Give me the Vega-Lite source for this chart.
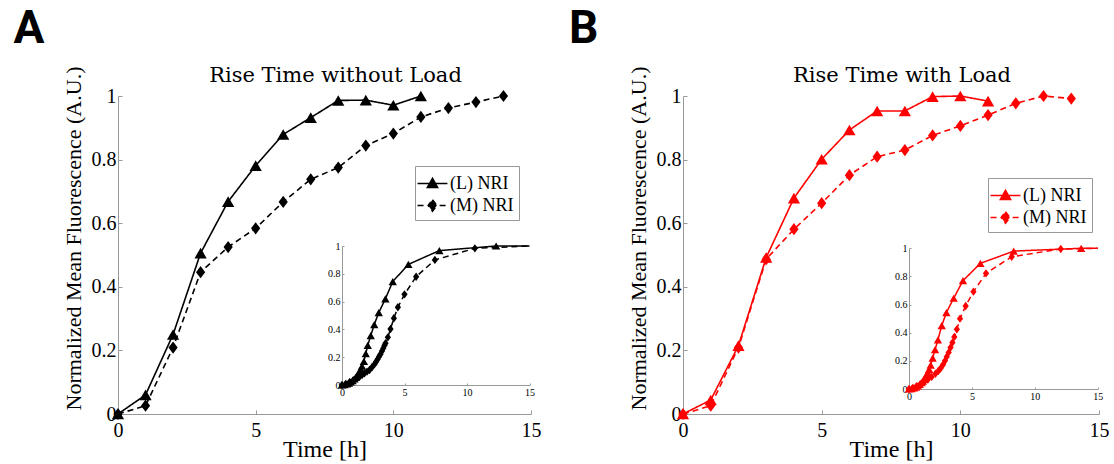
{
  "$schema": "https://vega.github.io/schema/vega-lite/v6.json",
  "padding": {"left": 13, "top": 6, "right": 0, "bottom": 0},
  "background": "white",
  "spacing": 27,
  "resolve": {"scale": {"strokeDash": "independent"}, "legend": {"strokeDash": "independent"}},
  "config": {
    "view": {"stroke": null},
    "axis": {"grid": false, "labelOverlap": false, "labelFlush": false, "labelBound": false, "domainColor": "#999", "tickColor": "#999", "labelColor": "black", "titleColor": "black", "labelFont": "Liberation Serif", "titleFont": "Liberation Serif", "titleFontWeight": "normal"},
    "title": {"color": "black"}
  },
  "datasets": {
    "mainA": [
      {"t": 0, "v": 0, "series": "(L) NRI"}, {"t": 1, "v": 0.06, "series": "(L) NRI"}, {"t": 2, "v": 0.25, "series": "(L) NRI"}, {"t": 3, "v": 0.506, "series": "(L) NRI"}, {"t": 4, "v": 0.668, "series": "(L) NRI"}, {"t": 5, "v": 0.781, "series": "(L) NRI"}, {"t": 6, "v": 0.879, "series": "(L) NRI"}, {"t": 7, "v": 0.932, "series": "(L) NRI"}, {"t": 8, "v": 0.986, "series": "(L) NRI"}, {"t": 9, "v": 0.987, "series": "(L) NRI"}, {"t": 10, "v": 0.971, "series": "(L) NRI"}, {"t": 11, "v": 1.0, "series": "(L) NRI"},
      {"t": 0, "v": 0, "series": "(M) NRI"}, {"t": 1, "v": 0.026, "series": "(M) NRI"}, {"t": 2, "v": 0.209, "series": "(M) NRI"}, {"t": 3, "v": 0.446, "series": "(M) NRI"}, {"t": 4, "v": 0.525, "series": "(M) NRI"}, {"t": 5, "v": 0.584, "series": "(M) NRI"}, {"t": 6, "v": 0.667, "series": "(M) NRI"}, {"t": 7, "v": 0.738, "series": "(M) NRI"}, {"t": 8, "v": 0.775, "series": "(M) NRI"}, {"t": 9, "v": 0.844, "series": "(M) NRI"}, {"t": 10, "v": 0.882, "series": "(M) NRI"}, {"t": 11, "v": 0.934, "series": "(M) NRI"}, {"t": 12, "v": 0.962, "series": "(M) NRI"}, {"t": 13, "v": 0.981, "series": "(M) NRI"}, {"t": 14, "v": 1.0, "series": "(M) NRI"}
    ],
    "insetA": [
      {"t": 0, "v": 0, "series": "(L) NRI"}, {"t": 0.2, "v": 0.003, "series": "(L) NRI"}, {"t": 0.4, "v": 0.008, "series": "(L) NRI"}, {"t": 0.55, "v": 0.014, "series": "(L) NRI"}, {"t": 0.7, "v": 0.022, "series": "(L) NRI"}, {"t": 0.85, "v": 0.032, "series": "(L) NRI"}, {"t": 1.0, "v": 0.044, "series": "(L) NRI"}, {"t": 1.1, "v": 0.054, "series": "(L) NRI"}, {"t": 1.2, "v": 0.066, "series": "(L) NRI"}, {"t": 1.3, "v": 0.08, "series": "(L) NRI"}, {"t": 1.4, "v": 0.097, "series": "(L) NRI"}, {"t": 1.5, "v": 0.115, "series": "(L) NRI"}, {"t": 1.6, "v": 0.135, "series": "(L) NRI"}, {"t": 1.75, "v": 0.17, "series": "(L) NRI"}, {"t": 1.9, "v": 0.225, "series": "(L) NRI"}, {"t": 2.06, "v": 0.285, "series": "(L) NRI"}, {"t": 2.3, "v": 0.355, "series": "(L) NRI"}, {"t": 2.58, "v": 0.435, "series": "(L) NRI"}, {"t": 2.94, "v": 0.52, "series": "(L) NRI"}, {"t": 3.47, "v": 0.62, "series": "(L) NRI"}, {"t": 4.06, "v": 0.744, "series": "(L) NRI"}, {"t": 5.31, "v": 0.868, "series": "(L) NRI"}, {"t": 7.79, "v": 0.967, "series": "(L) NRI"}, {"t": 12.33, "v": 1.0, "series": "(L) NRI"}, {"t": 15, "v": 1.0, "series": "(L) NRI"},
      {"t": 0, "v": 0, "series": "(M) NRI"}, {"t": 0.3, "v": 0.008, "series": "(M) NRI"}, {"t": 0.6, "v": 0.02, "series": "(M) NRI"}, {"t": 0.9, "v": 0.035, "series": "(M) NRI"}, {"t": 1.2, "v": 0.05, "series": "(M) NRI"}, {"t": 1.4, "v": 0.06, "series": "(M) NRI"}, {"t": 1.6, "v": 0.072, "series": "(M) NRI"}, {"t": 1.8, "v": 0.084, "series": "(M) NRI"}, {"t": 2.0, "v": 0.096, "series": "(M) NRI"}, {"t": 2.2, "v": 0.108, "series": "(M) NRI"}, {"t": 2.4, "v": 0.128, "series": "(M) NRI"}, {"t": 2.6, "v": 0.15, "series": "(M) NRI"}, {"t": 2.73, "v": 0.168, "series": "(M) NRI"}, {"t": 2.85, "v": 0.186, "series": "(M) NRI"}, {"t": 2.97, "v": 0.205, "series": "(M) NRI"}, {"t": 3.08, "v": 0.222, "series": "(M) NRI"}, {"t": 3.2, "v": 0.244, "series": "(M) NRI"}, {"t": 3.3, "v": 0.265, "series": "(M) NRI"}, {"t": 3.4, "v": 0.285, "series": "(M) NRI"}, {"t": 3.48, "v": 0.3, "series": "(M) NRI"}, {"t": 3.67, "v": 0.343, "series": "(M) NRI"}, {"t": 3.88, "v": 0.403, "series": "(M) NRI"}, {"t": 4.15, "v": 0.48, "series": "(M) NRI"}, {"t": 4.47, "v": 0.559, "series": "(M) NRI"}, {"t": 5.0, "v": 0.652, "series": "(M) NRI"}, {"t": 5.93, "v": 0.779, "series": "(M) NRI"}, {"t": 7.43, "v": 0.9, "series": "(M) NRI"}, {"t": 10.63, "v": 0.983, "series": "(M) NRI"}, {"t": 15, "v": 1.0, "series": "(M) NRI"}
    ],
    "mainB": [
      {"t": 0, "v": 0, "series": "(L) NRI"}, {"t": 1, "v": 0.044, "series": "(L) NRI"}, {"t": 2, "v": 0.215, "series": "(L) NRI"}, {"t": 3, "v": 0.492, "series": "(L) NRI"}, {"t": 4, "v": 0.679, "series": "(L) NRI"}, {"t": 5, "v": 0.801, "series": "(L) NRI"}, {"t": 6, "v": 0.893, "series": "(L) NRI"}, {"t": 7, "v": 0.953, "series": "(L) NRI"}, {"t": 8, "v": 0.953, "series": "(L) NRI"}, {"t": 9, "v": 0.998, "series": "(L) NRI"}, {"t": 10, "v": 1.0, "series": "(L) NRI"}, {"t": 11, "v": 0.984, "series": "(L) NRI"},
      {"t": 0, "v": 0, "series": "(M) NRI"}, {"t": 1, "v": 0.026, "series": "(M) NRI"}, {"t": 2, "v": 0.209, "series": "(M) NRI"}, {"t": 3, "v": 0.487, "series": "(M) NRI"}, {"t": 4, "v": 0.581, "series": "(M) NRI"}, {"t": 5, "v": 0.663, "series": "(M) NRI"}, {"t": 6, "v": 0.751, "series": "(M) NRI"}, {"t": 7, "v": 0.809, "series": "(M) NRI"}, {"t": 8, "v": 0.83, "series": "(M) NRI"}, {"t": 9, "v": 0.876, "series": "(M) NRI"}, {"t": 10, "v": 0.906, "series": "(M) NRI"}, {"t": 11, "v": 0.94, "series": "(M) NRI"}, {"t": 12, "v": 0.977, "series": "(M) NRI"}, {"t": 13, "v": 1.0, "series": "(M) NRI"}, {"t": 14, "v": 0.992, "series": "(M) NRI"}
    ],
    "insetB": [
      {"t": 0, "v": 0, "series": "(L) NRI"}, {"t": 0.2, "v": 0.003, "series": "(L) NRI"}, {"t": 0.4, "v": 0.008, "series": "(L) NRI"}, {"t": 0.55, "v": 0.014, "series": "(L) NRI"}, {"t": 0.7, "v": 0.022, "series": "(L) NRI"}, {"t": 0.85, "v": 0.032, "series": "(L) NRI"}, {"t": 1.0, "v": 0.045, "series": "(L) NRI"}, {"t": 1.1, "v": 0.056, "series": "(L) NRI"}, {"t": 1.2, "v": 0.07, "series": "(L) NRI"}, {"t": 1.3, "v": 0.085, "series": "(L) NRI"}, {"t": 1.4, "v": 0.1, "series": "(L) NRI"}, {"t": 1.5, "v": 0.118, "series": "(L) NRI"}, {"t": 1.6, "v": 0.14, "series": "(L) NRI"}, {"t": 1.72, "v": 0.17, "series": "(L) NRI"}, {"t": 1.88, "v": 0.22, "series": "(L) NRI"}, {"t": 2.07, "v": 0.28, "series": "(L) NRI"}, {"t": 2.3, "v": 0.35, "series": "(L) NRI"}, {"t": 2.6, "v": 0.45, "series": "(L) NRI"}, {"t": 2.97, "v": 0.543, "series": "(L) NRI"}, {"t": 3.55, "v": 0.645, "series": "(L) NRI"}, {"t": 4.29, "v": 0.77, "series": "(L) NRI"}, {"t": 5.67, "v": 0.893, "series": "(L) NRI"}, {"t": 8.32, "v": 0.98, "series": "(L) NRI"}, {"t": 13.68, "v": 1.0, "series": "(L) NRI"}, {"t": 15, "v": 1.0, "series": "(L) NRI"},
      {"t": 0, "v": 0, "series": "(M) NRI"}, {"t": 0.3, "v": 0.008, "series": "(M) NRI"}, {"t": 0.6, "v": 0.02, "series": "(M) NRI"}, {"t": 0.9, "v": 0.034, "series": "(M) NRI"}, {"t": 1.2, "v": 0.05, "series": "(M) NRI"}, {"t": 1.5, "v": 0.067, "series": "(M) NRI"}, {"t": 1.8, "v": 0.086, "series": "(M) NRI"}, {"t": 2.1, "v": 0.108, "series": "(M) NRI"}, {"t": 2.33, "v": 0.128, "series": "(M) NRI"}, {"t": 2.5, "v": 0.146, "series": "(M) NRI"}, {"t": 2.7, "v": 0.172, "series": "(M) NRI"}, {"t": 2.86, "v": 0.2, "series": "(M) NRI"}, {"t": 3.0, "v": 0.23, "series": "(M) NRI"}, {"t": 3.15, "v": 0.26, "series": "(M) NRI"}, {"t": 3.3, "v": 0.295, "series": "(M) NRI"}, {"t": 3.45, "v": 0.33, "series": "(M) NRI"}, {"t": 3.6, "v": 0.37, "series": "(M) NRI"}, {"t": 3.8, "v": 0.424, "series": "(M) NRI"}, {"t": 4.05, "v": 0.5, "series": "(M) NRI"}, {"t": 4.5, "v": 0.59, "series": "(M) NRI"}, {"t": 5.12, "v": 0.692, "series": "(M) NRI"}, {"t": 6.12, "v": 0.822, "series": "(M) NRI"}, {"t": 8.16, "v": 0.94, "series": "(M) NRI"}, {"t": 12.06, "v": 0.995, "series": "(M) NRI"}, {"t": 15, "v": 1.0, "series": "(M) NRI"}
    ]
  },
  "hconcat": [
    {
      "title": {"text": "A", "anchor": "start", "font": "Roboto", "fontSize": 46, "fontWeight": "bold", "dx": -48.5, "offset": 12},
      "vconcat": [
        {
          "width": 413,
          "height": 318,
          "title": {"text": "Rise Time without Load", "font": "DejaVu Serif", "fontSize": 21, "fontWeight": "normal", "anchor": "middle", "frame": "group", "dx": 11, "offset": -20},
          "resolve": {"scale": {"x": "independent", "y": "independent"}, "axis": {"x": "independent", "y": "independent"}},
          "layer": [
            {
              "data": {"name": "mainA"},
              "encoding": {
                "x": {"field": "t", "type": "quantitative", "scale": {"domain": [0, 15], "nice": false}, "axis": {"values": [0, 5, 10, 15], "title": "Time [h]", "titleFontSize": 24, "labelFontSize": 20, "tickSize": -4, "labelPadding": 10, "titlePadding": -3}},
                "y": {"field": "v", "type": "quantitative", "scale": {"domain": [0, 1], "nice": false}, "axis": {"values": [0, 0.2, 0.4, 0.6, 0.8, 1], "format": "~g", "title": "Normalized Mean Fluorescence (A.U.)", "titleFontSize": 22, "titleY": 142, "labelFontSize": 20, "tickSize": -4, "labelPadding": 6, "titlePadding": 6}}
              },
              "layer": [
                {
                  "mark": {"type": "line", "color": "black", "strokeWidth": 1.6},
                  "encoding": {
                    "strokeDash": {"field": "series", "type": "nominal", "scale": {"range": [[1, 0], [6, 4]]},
                      "legend": {"orient": "none", "legendX": 297, "legendY": 70, "title": null, "padding": 5, "strokeColor": "#999", "fillColor": "white", "labelFont": "Liberation Serif", "labelFontSize": 18, "labelColor": "black", "symbolSize": 529, "labelOffset": 5, "rowPadding": 0,
                        "encoding": {"symbols": {"shape": {"condition": {"test": "datum.value === '(L) NRI'", "value": "M-1.3,0H1.3M0,-0.45L0.45,0.35L-0.45,0.35Z"}, "value": "M-1.3,0H-0.62M0.62,0H1.3M0,-0.5L0.38,0L0,0.5L-0.38,0Z"}, "fill": {"value": "black"}, "stroke": {"value": "black"}, "strokeDash": {"value": [1, 0]}, "strokeWidth": {"value": 1.5}, "opacity": {"value": 1}}}}}
                  }
                },
                {
                  "transform": [{"filter": "datum.series === '(L) NRI'"}],
                  "mark": {"type": "point", "shape": "triangle-up", "filled": true, "color": "black", "opacity": 1, "size": 150}
                },
                {
                  "transform": [{"filter": "datum.series === '(M) NRI'"}],
                  "mark": {"type": "point", "shape": "M-0.75,0L0,-1L0.75,0L0,1Z", "filled": true, "color": "black", "opacity": 1, "size": 150}
                }
              ]
            },
            {
              "data": {"name": "insetA"},
              "encoding": {
                "x": {"field": "t", "type": "quantitative", "scale": {"domain": [0, 15], "nice": false, "range": [224, 411.5]}, "axis": {"orient": "bottom", "offset": -29, "values": [0, 5, 10, 15], "title": null, "labelFontSize": 10, "tickSize": -2, "labelPadding": 4}},
                "y": {"field": "v", "type": "quantitative", "scale": {"domain": [0, 1], "nice": false, "range": [289, 150]}, "axis": {"orient": "left", "offset": -224, "values": [0, 0.2, 0.4, 0.6, 0.8, 1], "format": "~g", "title": null, "labelFontSize": 10, "tickSize": -2, "labelPadding": 4}}
              },
              "layer": [
                {
                  "mark": {"type": "line", "color": "black", "strokeWidth": 1.5},
                  "encoding": {"strokeDash": {"field": "series", "type": "nominal", "legend": null}}
                },
                {
                  "transform": [{"filter": "datum.t < 15 && datum.series === '(L) NRI'"}],
                  "mark": {"type": "point", "shape": "triangle-up", "filled": true, "color": "black", "opacity": 1, "size": 70}
                },
                {
                  "transform": [{"filter": "datum.t < 15 && datum.series === '(M) NRI'"}],
                  "mark": {"type": "point", "shape": "M-0.75,0L0,-1L0.75,0L0,1Z", "filled": true, "color": "black", "opacity": 1, "size": 70}
                }
              ]
            }
          ]
        }
      ]
    },
    {
      "title": {"text": "B", "anchor": "start", "font": "Roboto", "fontSize": 46, "fontWeight": "bold", "dx": -58, "offset": 12},
      "vconcat": [
        {
          "width": 416,
          "height": 318,
          "title": {"text": "Rise Time with Load", "font": "DejaVu Serif", "fontSize": 21, "fontWeight": "normal", "anchor": "middle", "frame": "group", "dx": 11, "offset": -20},
          "resolve": {"scale": {"x": "independent", "y": "independent"}, "axis": {"x": "independent", "y": "independent"}},
          "layer": [
            {
              "data": {"name": "mainB"},
              "encoding": {
                "x": {"field": "t", "type": "quantitative", "scale": {"domain": [0, 15], "nice": false}, "axis": {"values": [0, 5, 10, 15], "title": "Time [h]", "titleFontSize": 24, "labelFontSize": 20, "tickSize": -4, "labelPadding": 10, "titlePadding": -3}},
                "y": {"field": "v", "type": "quantitative", "scale": {"domain": [0, 1], "nice": false}, "axis": {"values": [0, 0.2, 0.4, 0.6, 0.8, 1], "format": "~g", "title": "Normalized Mean Fluorescence (A.U.)", "titleFontSize": 22, "titleY": 142, "labelFontSize": 20, "tickSize": -4, "labelPadding": 6, "titlePadding": 6}}
              },
              "layer": [
                {
                  "mark": {"type": "line", "color": "#ff0000", "strokeWidth": 1.6},
                  "encoding": {
                    "strokeDash": {"field": "series", "type": "nominal", "scale": {"range": [[1, 0], [6, 4]]},
                      "legend": {"orient": "none", "legendX": 305, "legendY": 82, "title": null, "padding": 5, "strokeColor": "#999", "fillColor": "white", "labelFont": "Liberation Serif", "labelFontSize": 18, "labelColor": "black", "symbolSize": 529, "labelOffset": 5, "rowPadding": 0,
                        "encoding": {"symbols": {"shape": {"condition": {"test": "datum.value === '(L) NRI'", "value": "M-1.3,0H1.3M0,-0.45L0.45,0.35L-0.45,0.35Z"}, "value": "M-1.3,0H-0.62M0.62,0H1.3M0,-0.5L0.38,0L0,0.5L-0.38,0Z"}, "fill": {"value": "#ff0000"}, "stroke": {"value": "#ff0000"}, "strokeDash": {"value": [1, 0]}, "strokeWidth": {"value": 1.5}, "opacity": {"value": 1}}}}}
                  }
                },
                {
                  "transform": [{"filter": "datum.series === '(L) NRI'"}],
                  "mark": {"type": "point", "shape": "triangle-up", "filled": true, "color": "#ff0000", "opacity": 1, "size": 150}
                },
                {
                  "transform": [{"filter": "datum.series === '(M) NRI'"}],
                  "mark": {"type": "point", "shape": "M-0.75,0L0,-1L0.75,0L0,1Z", "filled": true, "color": "#ff0000", "opacity": 1, "size": 150}
                }
              ]
            },
            {
              "data": {"name": "insetB"},
              "encoding": {
                "x": {"field": "t", "type": "quantitative", "scale": {"domain": [0, 15], "nice": false, "range": [226, 414.8]}, "axis": {"orient": "bottom", "offset": -25, "values": [0, 5, 10, 15], "title": null, "labelFontSize": 10, "tickSize": -2, "labelPadding": 4}},
                "y": {"field": "v", "type": "quantitative", "scale": {"domain": [0, 1], "nice": false, "range": [293, 152.3]}, "axis": {"orient": "left", "offset": -226, "values": [0, 0.2, 0.4, 0.6, 0.8, 1], "format": "~g", "title": null, "labelFontSize": 10, "tickSize": -2, "labelPadding": 4}}
              },
              "layer": [
                {
                  "mark": {"type": "line", "color": "#ff0000", "strokeWidth": 1.5},
                  "encoding": {"strokeDash": {"field": "series", "type": "nominal", "legend": null}}
                },
                {
                  "transform": [{"filter": "datum.t < 15 && datum.series === '(L) NRI'"}],
                  "mark": {"type": "point", "shape": "triangle-up", "filled": true, "color": "#ff0000", "opacity": 1, "size": 70}
                },
                {
                  "transform": [{"filter": "datum.t < 15 && datum.series === '(M) NRI'"}],
                  "mark": {"type": "point", "shape": "M-0.75,0L0,-1L0.75,0L0,1Z", "filled": true, "color": "#ff0000", "opacity": 1, "size": 70}
                }
              ]
            }
          ]
        }
      ]
    }
  ]
}
